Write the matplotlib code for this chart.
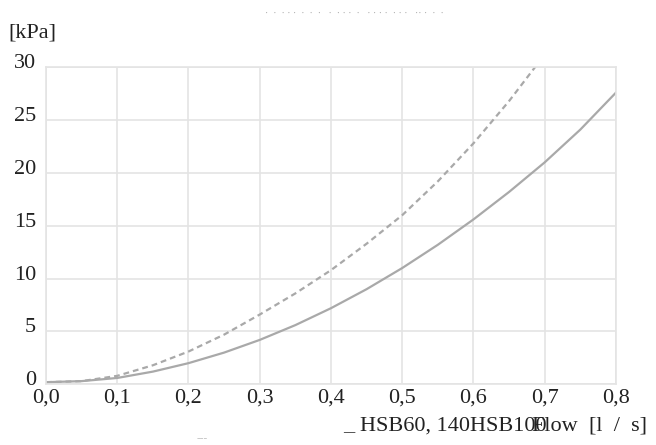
import numpy as np
from matplotlib import pyplot as plt
from matplotlib import transforms

# flow [l/s] and pressure loss [kPa]
flow = [0.0, 0.05, 0.1, 0.15, 0.2, 0.25, 0.3, 0.35, 0.4, 0.45,
        0.5, 0.55, 0.6, 0.65, 0.7, 0.75, 0.8]
loss_solid = [0.2, 0.3, 0.6, 1.2, 2.0, 3.0, 4.2, 5.6, 7.2, 9.0,
              11.0, 13.2, 15.6, 18.2, 21.0, 24.1, 27.6]
loss_dashed = [0.2, 0.3, 0.8, 1.8, 3.1, 4.7, 6.6, 8.6, 10.8, 13.3,
               16.0, 19.2, 22.8, 26.8, 31.2]

xticks = [0, 0.1, 0.2, 0.3, 0.4, 0.5, 0.6, 0.7, 0.8]
xlabels = ['0,0', '0,1', '0,2', '0,3', '0,4', '0,5', '0,6', '0,7', '0,8']
yticks = [0, 5, 10, 15, 20, 25, 30]

plt.rcParams['font.family'] = ['Liberation Serif', 'DejaVu Serif']

fig = plt.figure(figsize=(6.56, 4.45), dpi=100)
ax = fig.add_axes([0.0701, 0.1364, 0.8689, 0.7126])

line_col = '#a9a9a9'
ax.plot(flow[:len(loss_dashed)], loss_dashed, color=line_col, lw=1.6,
        dashes=(2.6, 1.8))
ax.plot(flow, loss_solid, color=line_col, lw=1.6)

ax.set_xlim(0, 0.8)
ax.set_ylim(0, 30)
ax.set_xticks(xticks)
ax.set_xticklabels(xlabels)
ax.set_yticks(yticks)
ax.tick_params(length=0, labelsize=16, labelcolor='#222222')
ax.tick_params(axis='y', pad=7)
ax.tick_params(axis='x', pad=3)
ax.grid(True, color='#e4e4e4', lw=1.2)
for s in ax.spines.values():
    s.set_color('#e4e4e4')
    s.set_linewidth(1.2)

# y labels sit a bit above their grid lines in the original
shift = transforms.ScaledTranslation(0, 6 / 100, fig.dpi_scale_trans)
for lab in ax.get_yticklabels():
    lab.set_transform(lab.get_transform() + shift)

# texts around the plot
fig.text(8 / 656, 1 - 33 / 445, '[kPa]', fontsize=16, color='#222222',
         va='center', ha='left')
fig.text(265 / 656, 1 - 13 / 445, '·  ·  · · ·  ·  ·  ·   ·  · · ·  ·   · · · ·  · · ·   ·· ·  ·  ·',
         fontsize=7, color='#a8a8a8', va='center', ha='left')
fig.text(197 / 656, 1 - 439 / 445, '---', fontsize=8, color='#bdbdbd',
         va='center', ha='left')
fig.text(343 / 656, 1 - 426 / 445, '_', fontsize=16, color='#333333',
         va='center', ha='left')
fig.text(360 / 656, 1 - 426 / 445, 'HSB60, 140HSB100', fontsize=16,
         color='#222222', va='center', ha='left')
fig.text(532 / 656, 1 - 426 / 445, 'Flow  [l  /  s]', fontsize=16,
         color='#222222', va='center', ha='left')

plt.savefig('out.png', dpi=100)
